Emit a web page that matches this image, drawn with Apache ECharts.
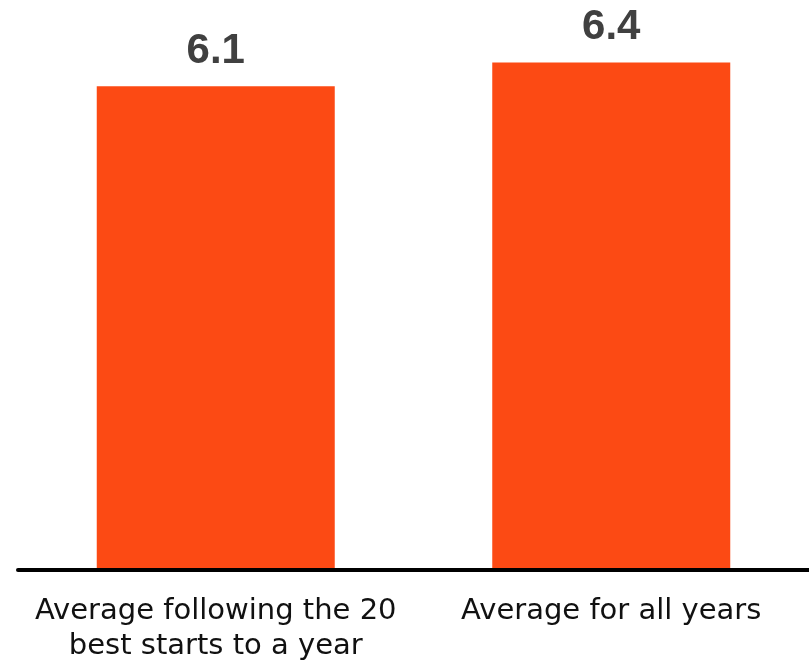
<!DOCTYPE html>
<html>
<head>
<meta charset="utf-8">
<script src="https://cdn.jsdelivr.net/npm/echarts@6/dist/echarts.min.js"></script>
<style>
html,body{margin:0;padding:0;background:#fff;}
#chart{width:809px;height:668px;}
</style>
</head>
<body>
<div id="chart"></div>
<script>
const categories = ["Average following the 20\nbest starts to a year", "Average for all years"];
const values = [6.1, 6.4];

const chart = echarts.init(document.getElementById('chart'), null, {renderer: 'canvas'});
chart.setOption({
  animation: false,
  backgroundColor: '#ffffff',
  grid: {left: 18, right: 0, top: 15, bottom: 98, containLabel: false},
  xAxis: {
    type: 'category',
    data: categories,
    z: 5,
    axisLine: {show: true, lineStyle: {color: '#000000', width: 4}},
    axisTick: {show: false},
    axisLabel: {
      interval: 0,
      margin: 24,
      color: '#111111',
      fontFamily: 'DejaVu Sans',
      fontSize: 29,
      lineHeight: 35
    }
  },
  yAxis: {
    type: 'value',
    min: 0,
    max: 7,
    show: false,
    splitLine: {show: false}
  },
  series: [{
    type: 'bar',
    data: values,
    barWidth: 238,
    itemStyle: {color: '#FC4A14'},
    label: {
      show: true,
      position: 'top',
      distance: 14,
      color: '#404040',
      fontFamily: 'Liberation Sans',
      fontWeight: 'bold',
      fontSize: 42,
      formatter: function (p) { return p.value.toFixed(1); }
    }
  }]
});
</script>
</body>
</html>
